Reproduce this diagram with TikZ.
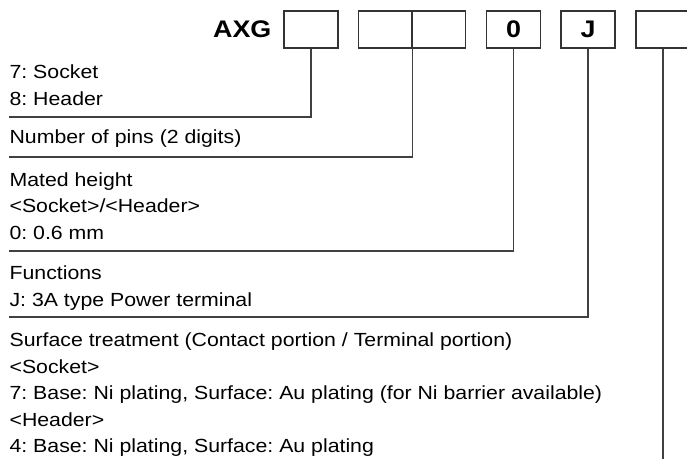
\documentclass[tikz,border=0pt]{standalone}
\usepackage{fontspec}
\setmainfont[FakeStretch=1.12]{Liberation Sans}
\frenchspacing
\tikzset{cell/.style={draw=black!80,minimum width = 54pt,minimum height = 37pt,inner sep = 0pt,font=\fontsize{24}{24}\selectfont\bfseries},
txt/.style={anchor = base west,inner sep = 0pt,align = left,font=\fontsize{19}{26.5}\selectfont},
lead/.style={draw=black!75,line width = 1.2pt}}

\begin{document}
\begin{tikzpicture}[x=1pt,y=-1pt,line width = 1.2pt]
\useasboundingbox (0,0) rectangle (687,459);
\node[anchor = east,inner sep = 0pt,font=\fontsize{24}{24}\selectfont\bfseries] (code) at (272,29.5) {AXG};
\node[cell] (c1) at (311,29.5) {};
\node[cell,minimum width = 53.5pt] (c2) at (385.25,29.5) {};
\node[cell,minimum width = 53.5pt] (c3) at (438.75,29.5) {};
\node[cell] (c4) at (513.5,29.5) {0};
\node[cell] (c5) at (588,29.5) {J};
\node[cell] (c6) at (663,29.5) {};

% base anchor = last line
\node[txt] (a) at (9,105) {7: Socket\\8: Header};
\node[txt] (b) at (9,143) {Number of pins (2 digits)};
\node[txt] (c) at (9,239) {Mated height\\<Socket>/<Header>\\0: 0.6 mm};
\node[txt] (d) at (9,306) {Functions\\J: 3A type Power terminal};
\node[txt] (e) at (9,452.5) {Surface treatment (Contact portion / Terminal portion)\\<Socket>\\7: Base: Ni plating, Surface: Au plating (for Ni barrier available)\\<Header>\\4: Base: Ni plating, Surface: Au plating};

\coordinate (ea) at (9,117);
\coordinate (eb) at (9,157);
\coordinate (ec) at (9,251);
\coordinate (ed) at (9,317);
\coordinate (ee) at (663,459);

\draw[lead] (c1.south) |- (ea);
\draw[lead] (c2.south east) |- (eb);
\draw[lead] (c4.south) |- (ec);
\draw[lead] (c5.south) |- (ed);
\draw[lead] (c6.south) -- (ee);
\end{tikzpicture}
\end{document}
